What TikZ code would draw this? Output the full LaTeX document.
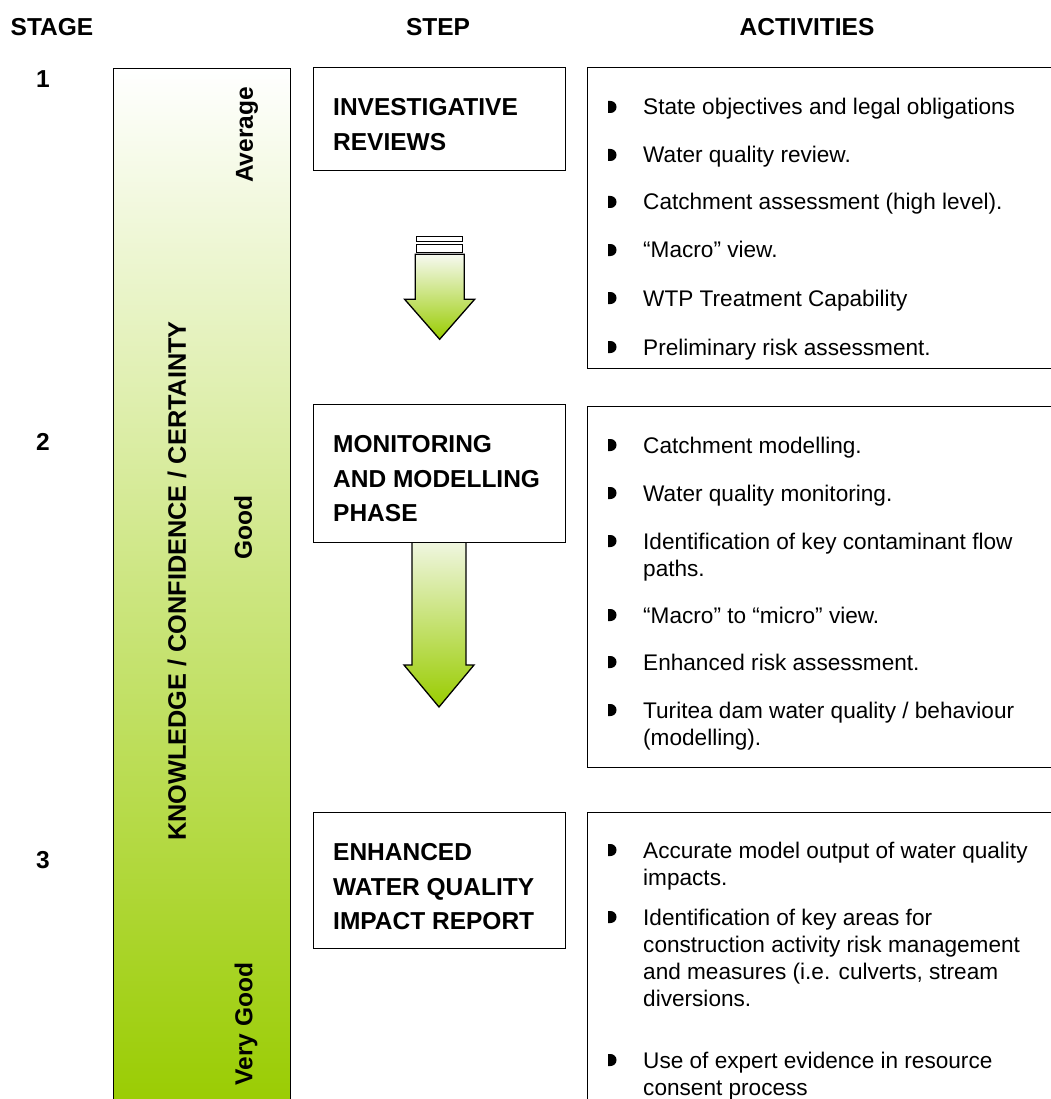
\documentclass[tikz,border=0pt]{standalone}
\usepackage{fontspec}
\setmainfont{Liberation Sans}
\usetikzlibrary{positioning,calc}

\definecolor{leaf}{RGB}{153,204,0}
\definecolor{paleleaf}{RGB}{246,249,240}
\definecolor{midleaf}{RGB}{210,229,176}

\newcommand{\bodyfont}{\fontsize{22.6}{27}\selectfont}
\newcommand{\stepfont}{\fontsize{24.5}{34.8}\selectfont\bfseries}

\begin{document}
\begin{tikzpicture}[x=1pt, y=-1pt,
  frame/.style={draw, line width=1.3pt},
  stepbox/.style={frame, fill=white, anchor=north west, minimum width=252pt, inner sep=0pt},
  steptext/.style={font=\stepfont, align=left, inner sep=0pt},
  actbox/.style={frame, anchor=north west, minimum width=480pt, inner sep=0pt},
  item/.style={font=\bodyfont, align=left, anchor=base west, inner sep=0pt},
  head/.style={font=\fontsize{24.5}{28}\selectfont\bfseries, inner sep=0pt},
  level/.style={font=\stepfont, rotate=90, inner sep=0pt},
  blockarrow/.style={draw, line width=1.3pt, top color=paleleaf, bottom color=leaf}]
\useasboundingbox (0,0) rectangle (1050,1099);

% column headings and stage numbers
\node[head] (hstage) at (52,27) {STAGE};
\node[head] (hstep) at (438,27) {STEP};
\node[head] (hact) at (807,27) {ACTIVITIES};
\node[head] (s1) at (43,79) {1};
\node[head] (s2) at (43,442) {2};
\node[head] (s3) at (43,860) {3};

% knowledge bar
\node[frame, anchor=north west, minimum width=177pt, minimum height=1045pt, inner sep=0pt,
  top color=white, middle color=midleaf, bottom color=leaf] (bar) at (113,68) {};
\node[level, font=\fontsize{25.3}{30}\selectfont\bfseries] (kcc) at (177,581) {KNOWLEDGE / CONFIDENCE / CERTAINTY};
\node[level] (avg) at (247,135) {Average};
\node[level] (good) at (243,528) {Good};
\node[level] (vgood) at (246,1024) {Very Good};

% steps
\node[stepbox, minimum height=103pt] (review) at (313,67) {};
\node[steptext, below right=31pt and 20pt of review.north west] (reviewtxt) {INVESTIGATIVE\\REVIEWS};

\draw[frame, fill=white] ($(review.south)+(-23,65)$) rectangle ++(46,5);
\draw[frame, fill=white] ($(review.south)+(-23,73)$) rectangle ++(46,8);
\draw[blockarrow] ($(review.south)+(-24.5,83)$) -- ++(49,0) -- ++(0,45) -- ++(10.5,0)
  -- ++(-35,40) -- ++(-35,-40) -- ++(10.5,0) -- cycle;

\coordinate (monitorNW) at (313,404);
\draw[blockarrow] ($(monitorNW)+(99,126)$) -- ++(54,0) -- ++(0,135) -- ++(8,0)
  -- ++(-35,42) -- ++(-35,-42) -- ++(8,0) -- cycle;
\node[stepbox, minimum height=138pt] (monitor) at (monitorNW) {};
\node[steptext, below right=31pt and 20pt of monitor.north west] (monitortxt) {MONITORING\\AND MODELLING\\PHASE};

\node[stepbox, minimum height=136pt] (report) at (313,812) {};
\node[steptext, below right=31pt and 20pt of report.north west] (reporttxt) {ENHANCED\\WATER QUALITY\\IMPACT REPORT};

% activities
\node[actbox, minimum height=301pt] (actA) at (587,67) {};
\node[actbox, minimum height=361pt] (actB) at (587,406) {};
\node[actbox, minimum height=320pt] (actC) at (587,812) {};

% first baseline / number of lines / text
\foreach \yb/\n/\txt [count=\i] in {
    115/1/{State objectives and legal obligations},
    163/1/{Water quality review.},
    210/1/{Catchment assessment (high level).},
    258/1/{``Macro'' view.},
    306/1/{WTP Treatment Capability},
    355/1/{Preliminary risk assessment.},
    453/1/{Catchment modelling.},
    501/1/{Water quality monitoring.},
    549/2/{Identification of key contaminant flow\\paths.},
    623/1/{``Macro'' to ``micro'' view.},
    670/1/{Enhanced risk assessment.},
    718/2/{Turitea dam water quality / behaviour\\(modelling).},
    858/2/{Accurate model output of water quality\\impacts.},
    925/4/{Identification of key areas for\\construction activity risk management\\and measures (i.e. culverts, stream\\diversions.},
    1068/2/{Use of expert evidence in resource\\consent process}} {
  \node[item] (it\i) at (643,{\yb+27*(\n-1)}) {\txt};
  \fill (608,\yb-14) -- ++(2.5,0) arc (-90:90:6) -- ++(-2.5,0) -- cycle;
}
\end{tikzpicture}
\end{document}
